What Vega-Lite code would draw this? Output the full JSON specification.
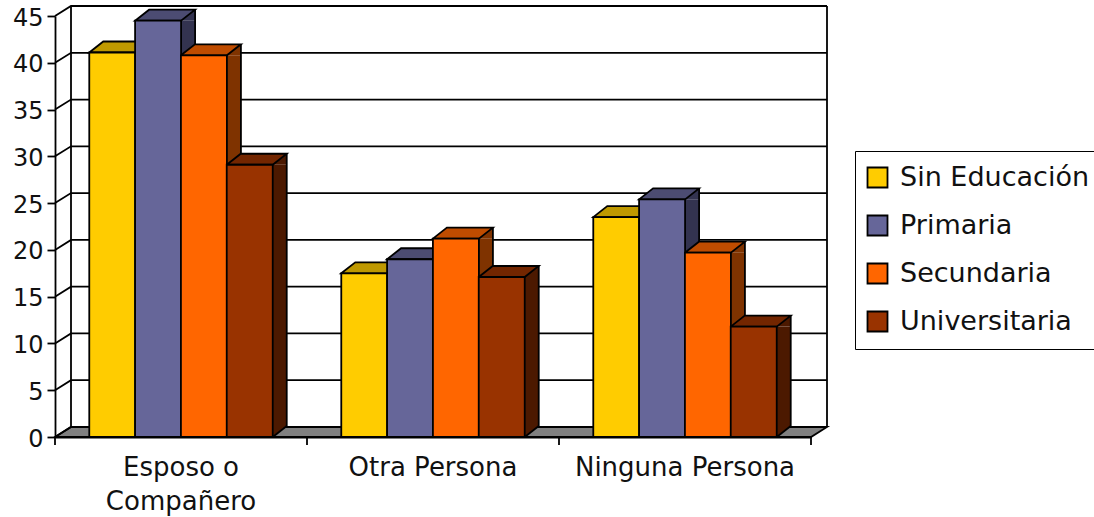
{"$schema":"https://vega.github.io/schema/vega-lite/v6.json","autosize":"none","width":756,"height":421,"padding":{"left":55,"top":16,"right":283,"bottom":80},"background":"white",
"datasets":{
"barras":[
{"grupo":"Esposo o Compañero","nivel":"Sin Educación","barra":"a2","valor":41.1},
{"grupo":"Esposo o Compañero","nivel":"Primaria","barra":"a4","valor":44.5},
{"grupo":"Esposo o Compañero","nivel":"Secundaria","barra":"a6","valor":40.8},
{"grupo":"Esposo o Compañero","nivel":"Universitaria","barra":"a8","valor":29.1},
{"grupo":"Otra Persona","nivel":"Sin Educación","barra":"b2","valor":17.5},
{"grupo":"Otra Persona","nivel":"Primaria","barra":"b4","valor":19.0},
{"grupo":"Otra Persona","nivel":"Secundaria","barra":"b6","valor":21.2},
{"grupo":"Otra Persona","nivel":"Universitaria","barra":"b8","valor":17.1},
{"grupo":"Ninguna Persona","nivel":"Sin Educación","barra":"c2","valor":23.5},
{"grupo":"Ninguna Persona","nivel":"Primaria","barra":"c4","valor":25.4},
{"grupo":"Ninguna Persona","nivel":"Secundaria","barra":"c6","valor":19.7},
{"grupo":"Ninguna Persona","nivel":"Universitaria","barra":"c8","valor":11.8}],
"rejilla":[{"v":0},{"v":5},{"v":10},{"v":15},{"v":20},{"v":25},{"v":30},{"v":35},{"v":40},{"v":45}],
"uno":[{"marco":"pared"}],
"grupos":[{"t":"Esposo o\nCompañero","c":"a5","m":"a0"},{"t":"Otra Persona","c":"b5","m":"b0"},{"t":"Ninguna Persona","c":"c5","m":"c0"}]},
"config":{"view":{"stroke":null},"font":"DejaVu Sans","text":{"font":"DejaVu Sans"}},
"resolve":{"scale":{"color":"independent"},"legend":{"color":"independent"}},
"layer":[
{"data":{"name":"uno"},"mark":{"type":"point","shape":"M0,0 L16,-10 L772,-10 L756,0 Z","size":4,"filled":true,"fill":"#808080","stroke":"black","strokeWidth":1.8,"opacity":1},
"encoding":{"x":{"datum":"a0","type":"nominal","bandPosition":0,"title":null,"sort":null,"scale":{"type":"band","padding":0,"domain":["a0","a1","a2","a3","a4","a5","a6","a7","a8","a9","a10","b0","b1","b2","b3","b4","b5","b6","b7","b8","b9","b10","c0","c1","c2","c3","c4","c5","c6","c7","c8","c9","c10"]},"axis":{"labels":false,"ticks":false,"title":null,"domainColor":"black","domainWidth":1.8}},
"y":{"datum":0,"type":"quantitative","title":null,"scale":{"domain":[0,45],"nice":false},"axis":{"values":[0,5,10,15,20,25,30,35,40,45],"format":"d","title":null,"grid":false,"domainColor":"black","domainWidth":1.8,"tickColor":"black","tickWidth":1.8,"tickSize":8,"labelFontSize":24,"labelFont":"DejaVu Sans","labelColor":"#111","labelPadding":4,"labelOffset":2,"labelOverlap":false,"labelBound":false,"labelFlush":false}}}},
{"data":{"name":"rejilla"},"mark":{"type":"point","shape":"M0,0 L16,-10 H772","size":4,"filled":false,"stroke":"black","strokeWidth":1.8,"opacity":1},
"encoding":{"x":{"datum":"a0","type":"nominal","bandPosition":0,"title":null},"y":{"field":"v","type":"quantitative","title":null}}},
{"data":{"name":"uno"},"mark":{"type":"point","shape":"M16,-10 V411 M772,-10 V411","size":4,"filled":false,"stroke":"black","strokeWidth":1.8,"opacity":1},
"encoding":{"x":{"datum":"a0","type":"nominal","bandPosition":0,"title":null},"y":{"datum":45,"type":"quantitative","title":null}}},
{"data":{"name":"grupos"},"mark":{"type":"point","shape":"M0,0 V8","size":4,"filled":false,"stroke":"black","strokeWidth":1.8,"opacity":1},
"encoding":{"x":{"field":"m","type":"nominal","bandPosition":0,"title":null},"y":{"datum":0,"type":"quantitative","title":null}}},
{"data":{"name":"uno"},"mark":{"type":"point","shape":"M0,0 V8","size":4,"filled":false,"stroke":"black","strokeWidth":1.8,"opacity":1},
"encoding":{"x":{"datum":"c10","type":"nominal","bandPosition":1,"title":null},"y":{"datum":0,"type":"quantitative","title":null}}},
{"data":{"name":"grupos"},"mark":{"type":"text","font":"DejaVu Sans","fontSize":26,"color":"#111","align":"center","baseline":"top","dy":18,"lineBreak":"\n","lineHeight":34},
"encoding":{"x":{"field":"c","type":"nominal","title":null},"y":{"datum":0,"type":"quantitative","title":null},"text":{"field":"t"}}},
{"data":{"name":"barras"},"mark":{"type":"bar","size":14.5,"xOffset":30,"y2Offset":-11},
"encoding":{"x":{"field":"barra","type":"nominal","title":null},"y":{"field":"valor","type":"quantitative","title":null,"stack":null},"y2":{"datum":0},
"color":{"field":"nivel","type":"nominal","legend":null,"scale":{"domain":["Sin Educación","Primaria","Secundaria","Universitaria"],"range":["#7f6600","#333350","#7f3300","#4c1900"]}}}},
{"data":{"name":"barras"},"mark":{"type":"point","shape":"M23,0 L37,-11 V0 Z","size":4,"filled":true,"opacity":1},
"encoding":{"x":{"field":"barra","type":"nominal","title":null},"y":{"field":"valor","type":"quantitative","title":null},
"color":{"field":"nivel","type":"nominal","legend":null,"scale":{"domain":["Sin Educación","Primaria","Secundaria","Universitaria"],"range":["#7f6600","#333350","#7f3300","#4c1900"]}}}},
{"data":{"name":"barras"},"mark":{"type":"point","shape":"M23,0 L37,-11 H23 Z","size":4,"filled":true,"opacity":1},
"encoding":{"x":{"field":"barra","type":"nominal","title":null},"y":{"datum":0,"type":"quantitative","title":null},
"color":{"field":"nivel","type":"nominal","legend":null,"scale":{"domain":["Sin Educación","Primaria","Secundaria","Universitaria"],"range":["#7f6600","#333350","#7f3300","#4c1900"]}}}},
{"data":{"name":"barras"},"mark":{"type":"bar","size":1.8,"xOffset":37,"yOffset":-11,"y2Offset":-11,"color":"black"},
"encoding":{"x":{"field":"barra","type":"nominal","title":null},"y":{"field":"valor","type":"quantitative","title":null,"stack":null},"y2":{"datum":0}}},
{"data":{"name":"barras"},"mark":{"type":"point","shape":"M23,0 L37,-11","size":4,"filled":false,"stroke":"black","strokeWidth":1.8,"opacity":1},
"encoding":{"x":{"field":"barra","type":"nominal","title":null},"y":{"datum":0,"type":"quantitative","title":null}}},
{"data":{"name":"barras"},"mark":{"type":"point","shape":"M-23,0 L-9,-11 H37 L23,0 Z","size":4,"filled":true,"stroke":"black","strokeWidth":1.8,"opacity":1},
"encoding":{"x":{"field":"barra","type":"nominal","title":null},"y":{"field":"valor","type":"quantitative","title":null},
"color":{"field":"nivel","type":"nominal","legend":null,"scale":{"domain":["Sin Educación","Primaria","Secundaria","Universitaria"],"range":["#bf9900","#4c4c72","#bf4c00","#732600"]}}}},
{"data":{"name":"barras"},"mark":{"type":"bar","size":46,"stroke":"black","strokeWidth":1.8},
"encoding":{"x":{"field":"barra","type":"nominal","title":null},"y":{"field":"valor","type":"quantitative","stack":null,"title":null},"y2":{"datum":0},
"color":{"field":"nivel","type":"nominal","scale":{"domain":["Sin Educación","Primaria","Secundaria","Universitaria"],"range":["#ffcc00","#666699","#ff6600","#993300"]},
"legend":{"title":null,"orient":"none","legendX":800,"legendY":135,"padding":13,"strokeColor":"black","fillColor":"white","symbolType":"square","symbolSize":400,"symbolStrokeColor":"black","symbolStrokeWidth":1.8,"symbolOffset":-4,"labelFont":"DejaVu Sans","labelFontSize":27,"labelColor":"#111","labelOffset":9,"rowPadding":19,"labelLimit":300}}}}
]}
